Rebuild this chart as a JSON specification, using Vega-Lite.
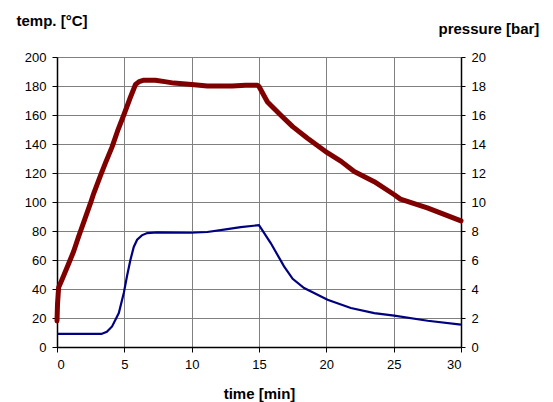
{
  "$schema": "https://vega.github.io/schema/vega-lite/v6.json",
  "autosize": {"type": "none"},
  "width": 404,
  "height": 290,
  "padding": {"left": 57, "top": 57, "right": 92, "bottom": 55},
  "background": "white",
  "config": {
    "view": {"stroke": null},
    "font": "Liberation Sans",
    "axis": {
      "labelFont": "Liberation Sans",
      "labelFontSize": 13,
      "labelColor": "black",
      "titleFont": "Liberation Sans",
      "titleFontSize": 15,
      "titleFontWeight": "bold",
      "titleColor": "black",
      "domainColor": "black",
      "domainWidth": 1.5,
      "tickColor": "black",
      "tickWidth": 1,
      "gridColor": "#808080",
      "gridWidth": 1,
      "gridOpacity": 1
    }
  },
  "datasets": {
    "temp": [
      {"time": 0, "temp": 18},
      {"time": 0.04, "temp": 30},
      {"time": 0.12, "temp": 41},
      {"time": 0.4, "temp": 47},
      {"time": 0.8, "temp": 56},
      {"time": 1.24, "temp": 66},
      {"time": 1.6, "temp": 76},
      {"time": 1.98, "temp": 86},
      {"time": 2.48, "temp": 99},
      {"time": 2.73, "temp": 106},
      {"time": 3.22, "temp": 118},
      {"time": 3.6, "temp": 127},
      {"time": 4.09, "temp": 138},
      {"time": 4.5, "temp": 149},
      {"time": 4.96, "temp": 160},
      {"time": 5.4, "temp": 171},
      {"time": 5.83, "temp": 181},
      {"time": 6.1, "temp": 183},
      {"time": 6.45, "temp": 184},
      {"time": 7.3, "temp": 184},
      {"time": 8.0, "temp": 183},
      {"time": 8.68, "temp": 182},
      {"time": 10, "temp": 181},
      {"time": 11.16, "temp": 180},
      {"time": 12, "temp": 180},
      {"time": 13, "temp": 180},
      {"time": 14, "temp": 180.5},
      {"time": 14.88, "temp": 180.5},
      {"time": 15.0, "temp": 179.7},
      {"time": 15.63, "temp": 169},
      {"time": 16.6, "temp": 160},
      {"time": 17.5, "temp": 152},
      {"time": 18.6, "temp": 144},
      {"time": 20.07, "temp": 134},
      {"time": 21.1, "temp": 128},
      {"time": 22.07, "temp": 121},
      {"time": 23.56, "temp": 114},
      {"time": 25.05, "temp": 105},
      {"time": 25.5, "temp": 102},
      {"time": 27.5, "temp": 96},
      {"time": 30, "temp": 87}
    ],
    "pressure": [
      {"time": 0, "pressure": 0.9},
      {"time": 3.3, "pressure": 0.9},
      {"time": 3.7, "pressure": 1.05},
      {"time": 4.09, "pressure": 1.42},
      {"time": 4.59, "pressure": 2.34},
      {"time": 4.96, "pressure": 3.72},
      {"time": 5.2, "pressure": 4.9},
      {"time": 5.45, "pressure": 6.0},
      {"time": 5.7, "pressure": 6.9},
      {"time": 5.95, "pressure": 7.4},
      {"time": 6.3, "pressure": 7.7},
      {"time": 6.7, "pressure": 7.86},
      {"time": 7.44, "pressure": 7.9},
      {"time": 9.92, "pressure": 7.88},
      {"time": 11.16, "pressure": 7.93},
      {"time": 12.4, "pressure": 8.09},
      {"time": 13.64, "pressure": 8.27},
      {"time": 15.0, "pressure": 8.4},
      {"time": 15.87, "pressure": 7.17},
      {"time": 16.86, "pressure": 5.56},
      {"time": 17.5, "pressure": 4.7},
      {"time": 18.35, "pressure": 4.07},
      {"time": 20.09, "pressure": 3.26},
      {"time": 21.82, "pressure": 2.69},
      {"time": 23.56, "pressure": 2.34},
      {"time": 25.04, "pressure": 2.16},
      {"time": 27.53, "pressure": 1.81},
      {"time": 30, "pressure": 1.54}
    ]
  },
  "layer": [
    {
      "data": {"name": "temp"},
      "mark": {"type": "line", "color": "#800000", "strokeWidth": 5, "strokeJoin": "round", "strokeCap": "round"},
      "encoding": {
        "x": {
          "field": "time", "type": "quantitative",
          "scale": {"domain": [0, 30], "nice": false},
          "axis": {
            "title": "time [min]",
            "values": [0, 5, 10, 15, 20, 25, 30],
            "grid": true,
            "tickSize": 5,
            "labelPadding": 6,
            "titleAnchor": "middle",
            "titleBaseline": "middle",
            "titleY": 46
          }
        },
        "y": {
          "field": "temp", "type": "quantitative",
          "scale": {"domain": [0, 200], "nice": false},
          "axis": {
            "title": "temp. [°C]",
            "values": [0, 20, 40, 60, 80, 100, 120, 140, 160, 180, 200],
            "grid": true,
            "tickSize": 5,
            "labelPadding": 6,
            "titleAngle": 0,
            "titleAlign": "left",
            "titleBaseline": "middle",
            "titleX": -41,
            "titleY": -37
          }
        }
      }
    },
    {
      "data": {"name": "pressure"},
      "mark": {"type": "line", "color": "#000080", "strokeWidth": 2.2},
      "encoding": {
        "x": {"field": "time", "type": "quantitative"},
        "y": {
          "field": "pressure", "type": "quantitative",
          "scale": {"domain": [0, 20], "nice": false},
          "axis": {
            "orient": "right",
            "title": "pressure [bar]",
            "values": [0, 2, 4, 6, 8, 10, 12, 14, 16, 18, 20],
            "grid": false,
            "tickSize": 4,
            "labelPadding": 6,
            "titleAngle": 0,
            "titleAlign": "left",
            "titleBaseline": "middle",
            "titleX": -23,
            "titleY": -29
          }
        }
      }
    }
  ],
  "resolve": {"scale": {"y": "independent"}}
}
